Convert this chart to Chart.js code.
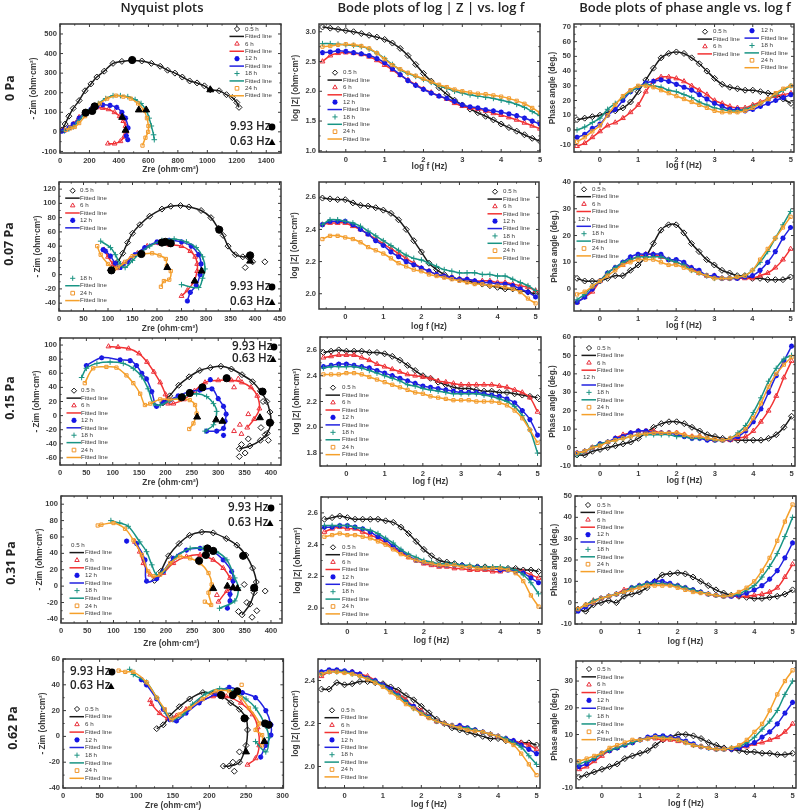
<!DOCTYPE html>
<html><head><meta charset="utf-8">
<script src="https://cdn.jsdelivr.net/npm/chart.js@4"></script>
<style>
html,body{margin:0;padding:0;background:#fff;width:800px;height:811px;overflow:hidden}
#wrap{position:relative;width:800px;height:811px;filter:blur(0.35px)}
canvas{position:absolute;display:block}
.h{position:absolute;top:-2px;font:600 13px "Open Sans",sans-serif;color:#222;white-space:nowrap;transform:translateX(-50%)}
.r{position:absolute;font:700 12.5px "Open Sans",sans-serif;color:#222;white-space:nowrap;transform:translate(-50%,-50%) rotate(-90deg)}
</style></head><body><div id="wrap"></div>
<script>
const SERIES=['0.5 h','6 h','12 h','18 h','24 h'];
const FIT='Fitted line';
const RATES=['0 Pa','0.07 Pa','0.15 Pa','0.31 Pa','0.62 Pa'];
const HEADS=['Nyquist plots','Bode plots of log | Z |  vs. log f','Bode plots of phase angle vs. log f'];
const logF=[-0.6,-0.4,-0.2,0,0.2,0.4,0.6,0.8,1,1.2,1.4,1.6,1.8,2,2.2,2.4,2.6,2.8,3,3.2,3.4,3.6,3.8,4,4.2,4.4,4.6,4.8,5];

// Nyquist: [Zre, -Zim]
const N0_05=[[1215,125],[1200,150],[1170,175],[1130,190],[1080,210],[1020,215],[980,235],[930,250],[880,260],[830,280],[780,300],[730,315],[680,335],[620,350],[555,362],[490,365],[420,360],[360,350],[300,310],[250,280],[210,245],[170,210],[130,160],[90,120],[60,80],[35,40],[15,10]];
const N0_6=[[325,-60],[370,-60],[410,-48],[435,-25],[448,0],[445,30],[430,55],[405,80],[370,100],[330,115],[290,122],[250,125],[210,115],[170,100],[130,75],[90,40],[60,20],[30,8],[10,3]];
const N0_12=[[460,-40],[450,-20],[462,20],[445,70],[420,100],[385,125],[340,135],[290,138],[250,130],[210,115],[170,100],[130,70],[90,40],[60,20],[30,8],[10,3]];
const N0_18=[[640,-40],[635,-15],[620,30],[605,70],[585,110],[550,145],[510,165],[460,180],[410,185],[360,185],[310,170],[260,145],[210,115],[160,85],[120,50],[90,25],[60,15],[30,5]];
const N0_24=[[560,-70],[580,-30],[598,0],[600,30],[590,70],[570,110],[530,145],[480,170],[430,180],[380,185],[320,170],[270,145],[220,115],[170,80],[130,45],[100,25],[70,18],[40,10]];
const N0_C=[[490,367],[235,130],[219,107],[174,98]];
const N0_T=[[1020,215],[535,112],[585,112],[422,74],[445,8]];

const N1_05=[[395,18],[385,25],[375,25],[360,28],[345,40],[335,55],[325,65],[310,80],[290,90],[265,95],[248,97],[228,96],[210,92],[185,82],[165,70],[150,58],[140,45],[130,30],[120,18],[110,10],[105,6]];
const N1_6=[[250,-30],[262,-22],[275,-10],[282,5],[282,15],[278,25],[268,33],[250,40],[225,42],[205,44],[180,40],[160,30],[145,22],[130,14],[118,9],[110,15],[100,25],[92,35]];
const N1_12=[[262,-37],[268,-25],[280,-15],[288,0],[290,15],[285,28],[270,40],[250,46],[225,48],[200,46],[175,38],[155,28],[140,18],[125,10],[115,16],[105,26],[95,33],[90,35]];
const N1_18=[[250,-14],[285,-18],[293,-5],[298,8],[293,25],[280,38],[260,46],[235,50],[210,48],[185,40],[165,30],[150,20],[135,10],[125,15],[115,28],[105,38],[85,47]];
const N1_24=[[208,-17],[214,-9],[225,-7],[228,5],[220,12],[218,22],[205,27],[190,30],[172,29],[150,26],[135,18],[120,10],[112,8],[100,15],[85,28],[78,40]];
const N1_05x=[[420,18],[380,10]];
const N1_C=[[327,63],[390,27],[107,6],[168,29],[210,45],[217,46],[228,44]];
const N1_T=[[390,19],[221,10],[291,5],[277,-9]];

const N2_05=[[340,-47],[360,-43],[380,-35],[393,-25],[400,-10],[398,5],[392,20],[380,35],[365,48],[345,58],[325,66],[305,70],[285,68],[265,64],[245,55],[225,43],[208,28],[195,18]];
const N2_05x=[[340,-58],[351,-53],[344,-41],[357,-33],[395,-35],[389,-27],[381,-17],[385,20]];
const N2_6=[[355,-17],[368,-5],[378,10],[374,28],[362,40],[345,47],[325,50],[300,50],[275,47],[255,35],[235,23],[215,17],[205,17],[200,30],[190,47],[178,62],[165,76],[150,88],[130,95],[110,97],[92,98]];
const N2_6x=[[330,-22],[344,-26],[341,-13],[357,2],[330,40],[338,52]];
const N2_12=[[278,-22],[297,-22],[310,-18],[313,-8],[315,2],[310,13],[300,24],[288,38],[265,36],[246,34],[224,28],[208,22],[196,19],[183,13],[174,34],[164,52],[155,60],[145,71],[133,78],[114,79],[79,82],[50,71]];
const N2_12x=[[310,-28],[285,51]];
const N2_18=[[275,-22],[291,-13],[297,6],[291,17],[278,27],[259,31],[234,27],[208,21],[190,15],[177,17],[167,38],[155,55],[139,67],[120,74],[95,76],[70,74],[50,67],[41,54]];
const N2_24=[[245,-19],[253,-11],[259,3],[256,15],[246,22],[228,23],[208,23],[190,23],[171,17],[161,15],[152,31],[139,46],[126,57],[107,68],[88,69],[63,67],[47,46]];
const N2_C=[[316,53],[384,34],[270,40],[246,32],[231,26],[398,-10]];
const N2_T=[[379,-3],[260,-2],[296,-6],[308,-8]];

const N3_05=[[345,-35],[360,-22],[368,-8],[372,5],[365,22],[352,38],[335,50],[315,58],[290,65],[268,66],[245,62],[225,52],[205,37],[190,18],[178,7]];
const N3_05x=[[338,-31],[364,-38],[373,-30],[354,-20],[389,-6],[349,2]];
const N3_6=[[300,-19],[316,-6],[328,-2],[322,10],[309,22],[290,32],[265,38],[239,36],[214,28],[195,16],[182,10],[170,14],[157,28],[150,42],[141,54]];
const N3_6x=[[297,-11]];
const N3_12=[[317,-27],[322,-18],[322,-10],[328,6],[325,18],[309,32],[290,42],[265,46],[239,44],[214,34],[195,18],[182,9],[163,6],[160,32],[144,52]];
const N3_12x=[[125,55]];
const N3_18=[[302,-27],[331,-18],[338,-2],[331,10],[316,32],[296,42],[271,46],[246,46],[220,36],[195,18],[182,14],[173,26],[163,42],[150,54],[128,73],[112,77],[95,80]];
const N3_24=[[274,-19],[286,-23],[281,-8],[287,2],[281,16],[265,28],[246,34],[227,36],[208,28],[189,14],[176,12],[166,18],[154,38],[138,56],[122,70],[100,77],[77,75],[70,74]];
const N3_C=[[279,46],[290,43],[347,37],[263,31],[276,38],[368,-2]];
const N3_T=[[290,-3],[317,0],[328,-2],[336,-3],[368,-3]];

const N4_05=[[219,-23],[227,-23],[241,-20],[250,-7],[252,5],[250,14],[241,21],[229,26],[218,31],[205,33],[191,34],[173,29],[159,23],[146,16],[137,9],[128,6]];
const N4_05x=[[234,-27],[232,-20],[241,-12]];
const N4_6=[[252,-22],[263,-17],[268,-7],[266,7],[259,17],[243,26],[223,31],[205,31],[186,27],[168,21],[155,16],[143,14],[132,18],[121,25],[119,28]];
const N4_12=[[270,-16],[277,-7],[284,1],[284,9],[277,20],[263,30],[245,34],[227,38],[209,33],[186,26],[168,18],[155,12],[146,13],[137,21],[128,29],[114,40],[107,44]];
const N4_18=[[263,-4],[277,-12],[281,-1],[277,8],[263,22],[250,29],[232,35],[214,37],[195,33],[177,25],[164,17],[150,13],[141,18],[128,30],[114,42],[96,48],[91,52]];
const N4_24=[[272,-7],[272,1],[263,5],[268,10],[254,22],[243,30],[227,35],[209,35],[191,29],[173,22],[159,17],[148,13],[139,21],[128,30],[114,42],[96,50],[85,50],[76,51]];
const N4_24x=[[244,40]];
const N4_C=[[216,32],[248,14],[232,32],[238,35],[276,10],[281,9]];
const N4_T=[[250,-12],[275,-4]];

// log |Z|
const Z0_05=[3.08,3.06,3.04,3.02,3.00,2.97,2.94,2.91,2.87,2.81,2.72,2.60,2.45,2.30,2.17,2.06,1.95,1.85,1.77,1.70,1.64,1.58,1.52,1.45,1.39,1.33,1.27,1.21,1.16];
const Z0_6=[2.50,2.60,2.64,2.65,2.64,2.62,2.58,2.52,2.44,2.36,2.27,2.19,2.11,2.04,1.98,1.92,1.87,1.80,1.75,1.72,1.70,1.67,1.63,1.60,1.56,1.52,1.47,1.42,1.37];
const Z0_12=[2.65,2.66,2.68,2.67,2.65,2.63,2.60,2.55,2.48,2.38,2.28,2.18,2.10,2.03,1.97,1.92,1.88,1.83,1.77,1.74,1.72,1.69,1.67,1.65,1.62,1.59,1.55,1.50,1.45];
const Z0_18=[2.80,2.80,2.79,2.78,2.77,2.75,2.71,2.64,2.55,2.45,2.36,2.30,2.25,2.20,2.15,2.09,2.05,2.00,1.97,1.94,1.92,1.90,1.88,1.85,1.82,1.78,1.73,1.66,1.59];
const Z0_24=[2.75,2.76,2.78,2.79,2.78,2.76,2.72,2.64,2.54,2.44,2.37,2.31,2.26,2.21,2.16,2.11,2.07,2.03,2.00,1.98,1.96,1.95,1.93,1.91,1.88,1.84,1.79,1.72,1.64];

const Z1_05=[2.595,2.59,2.585,2.585,2.565,2.55,2.545,2.535,2.52,2.50,2.46,2.40,2.33,2.26,2.19,2.15,2.12,2.10,2.09,2.08,2.07,2.06,2.05,2.04,2.03,2.03,2.02,2.01,2.00];
const Z1_6=[2.43,2.44,2.44,2.44,2.42,2.40,2.37,2.34,2.31,2.28,2.25,2.22,2.19,2.16,2.14,2.12,2.11,2.10,2.09,2.09,2.08,2.08,2.08,2.07,2.07,2.06,2.05,2.04,2.02];
const Z1_12=[2.43,2.45,2.45,2.45,2.43,2.40,2.37,2.33,2.30,2.26,2.23,2.20,2.18,2.16,2.14,2.12,2.11,2.10,2.09,2.09,2.08,2.07,2.07,2.06,2.06,2.05,2.03,2.01,1.98];
const Z1_18=[2.43,2.46,2.46,2.45,2.44,2.42,2.39,2.36,2.33,2.30,2.27,2.24,2.22,2.21,2.19,2.17,2.15,2.14,2.13,2.13,2.13,2.12,2.12,2.11,2.11,2.09,2.07,2.05,2.02];
const Z1_24=[2.34,2.36,2.36,2.35,2.34,2.32,2.29,2.27,2.25,2.22,2.19,2.17,2.15,2.14,2.12,2.11,2.10,2.09,2.08,2.07,2.06,2.06,2.05,2.05,2.04,2.03,2.01,1.97,1.94];

const Z2_05=[2.58,2.59,2.60,2.59,2.59,2.59,2.58,2.58,2.57,2.55,2.52,2.48,2.44,2.40,2.38,2.35,2.33,2.31,2.30,2.30,2.29,2.28,2.28,2.27,2.27,2.26,2.25,2.24,2.23];
const Z2_6=[2.54,2.55,2.56,2.56,2.56,2.54,2.52,2.49,2.47,2.45,2.43,2.41,2.40,2.39,2.38,2.36,2.35,2.34,2.33,2.33,2.33,2.33,2.33,2.32,2.31,2.29,2.27,2.23,2.12];
const Z2_12=[2.47,2.48,2.49,2.49,2.48,2.47,2.46,2.44,2.42,2.40,2.38,2.36,2.34,2.32,2.31,2.30,2.29,2.28,2.27,2.27,2.27,2.26,2.25,2.24,2.22,2.19,2.13,2.06,1.94];
const Z2_18=[2.46,2.47,2.47,2.47,2.47,2.46,2.44,2.42,2.40,2.38,2.36,2.33,2.32,2.30,2.29,2.28,2.27,2.26,2.26,2.26,2.26,2.25,2.24,2.22,2.20,2.16,2.09,1.98,1.80];
const Z2_24=[2.41,2.41,2.41,2.42,2.42,2.41,2.39,2.37,2.35,2.33,2.31,2.29,2.27,2.26,2.24,2.23,2.22,2.21,2.21,2.21,2.20,2.20,2.20,2.19,2.17,2.13,2.07,1.98,1.88];

const Z3_05=[2.56,2.57,2.58,2.57,2.56,2.56,2.56,2.56,2.55,2.54,2.51,2.47,2.42,2.37,2.33,2.30,2.29,2.28,2.27,2.26,2.26,2.26,2.25,2.25,2.25,2.25,2.24,2.24,2.23];
const Z3_6=[2.48,2.50,2.51,2.50,2.50,2.48,2.46,2.44,2.41,2.38,2.35,2.32,2.30,2.28,2.27,2.26,2.26,2.25,2.25,2.24,2.24,2.24,2.23,2.23,2.24,2.24,2.23,2.21,2.19];
const Z3_12=[2.51,2.51,2.52,2.52,2.51,2.50,2.48,2.45,2.43,2.39,2.36,2.33,2.30,2.29,2.28,2.27,2.27,2.27,2.27,2.26,2.26,2.25,2.25,2.24,2.24,2.23,2.22,2.19,2.16];
const Z3_18=[2.52,2.52,2.52,2.52,2.51,2.50,2.49,2.47,2.44,2.41,2.37,2.34,2.32,2.30,2.29,2.28,2.28,2.28,2.27,2.27,2.26,2.26,2.26,2.26,2.25,2.24,2.21,2.16,2.09];
const Z3_24=[2.45,2.46,2.47,2.46,2.46,2.45,2.44,2.42,2.40,2.37,2.34,2.32,2.30,2.29,2.28,2.27,2.27,2.27,2.26,2.26,2.25,2.25,2.25,2.25,2.24,2.22,2.17,2.08,2.01];

const Z4_05=[2.36,2.36,2.39,2.38,2.385,2.395,2.395,2.39,2.385,2.37,2.355,2.33,2.31,2.28,2.25,2.22,2.20,2.18,2.17,2.16,2.15,2.14,2.13,2.13,2.12,2.11,2.11,2.11,2.10];
const Z4_6=[2.42,2.44,2.445,2.44,2.44,2.43,2.42,2.40,2.38,2.36,2.34,2.31,2.28,2.26,2.23,2.21,2.20,2.19,2.19,2.18,2.17,2.16,2.15,2.14,2.13,2.12,2.11,2.10,2.08];
const Z4_12=[2.44,2.45,2.45,2.445,2.44,2.43,2.41,2.40,2.38,2.36,2.33,2.30,2.28,2.25,2.23,2.21,2.20,2.19,2.19,2.18,2.17,2.16,2.15,2.14,2.13,2.12,2.10,2.08,2.06];
const Z4_18=[2.43,2.44,2.44,2.44,2.43,2.42,2.41,2.395,2.375,2.35,2.33,2.30,2.27,2.25,2.23,2.21,2.20,2.19,2.18,2.18,2.17,2.16,2.15,2.14,2.13,2.11,2.09,2.05,2.01];
const Z4_24=[2.43,2.44,2.44,2.435,2.43,2.42,2.405,2.39,2.37,2.345,2.32,2.29,2.27,2.245,2.225,2.21,2.20,2.19,2.18,2.17,2.165,2.16,2.15,2.14,2.12,2.10,2.06,2.01,1.96];

// phase angle
const P0_05=[7,8,9,10,12,13,15,19,26,34,42,49,52,53,52,49,45,40,35,31,29,28,27,27,26,25,24,21,18];
const P0_6=[-11,-9,-5,-1,3,5,8,12,17,26,33,36,36,35,33,30,27,24,20,18,16,15,15,17,19,21,23,24,25];
const P0_12=[-5,-3,1,4,10,14,20,26,29,32,33,34,33,31,29,27,24,21,18,16,14,14,13,14,16,18,20,22,24];
const P0_18=[0,2,5,8,14,18,22,26,29,31,30,29,27,26,24,22,19,17,15,14,13,13,14,16,18,21,24,27,30];
const P0_24=[-8,-5,-1,3,10,17,23,27,30,30,29,27,25,23,21,19,17,15,13,12,12,12,13,15,18,21,25,28,30];

const P1_05=[4,3,3,3,4,5,5,7,9,12,17,22,24,24,21,17,14,11,9,7,6,5,5,4,4,3.5,3.5,3.5,4.5];
const P1_6=[-5,-3,-1,3,6,8,9,11,12,13,13,12,11,10,9,8,6,5,5,4,4,4,4,4,5,6,8,11,15];
const P1_12=[-5,-3,0,3,6,8,10,12,13,13,13,13,11,11,10,8,7,5,5,4,4,4,4.5,5,7,10,14,19,23];
const P1_18=[-4,-2,1,3,6,8,10,11,12,12,12,12,11,10,9,7,6,5,4,4,4,4.5,5,7,10,14,19,24,29];
const P1_24=[-2,-1,1,3,5,7,9,10,11,11,11,10,9,9,8,7,6,5,4,4,4,4.5,5,7,11,15,19,23,27];

const P2_05=[-4,-4,-2,-1,0,1,2,3,5,8,11,13,14,14,13,11,9,7,6,5,4.5,4,4,4,4,5,7,11,17];
const P2_6=[-3,-2,0,2,3,5,7,8,9,9,9,8,8,8,7,6,6,5,4,4,4,5,6,9,14,20,28,38,47];
const P2_12=[-3,-2,0,2,3,5,6,8,9,9,8,8,8,7,6,5,5,4,4,4,4.5,6,9,14,21,30,39,47,55];
const P2_18=[-4,-2,0,2,3,4,5,6,7,7,7,7,7,6,6,5,5,5,4,4,5,8,12,19,27,36,43,48,50];
const P2_24=[-3,-2,0,1,3,4,5,6,7,7.5,8,8,8,8,7,6,6,5,4.5,4,5,7,10,16,24,33,40,45,49];

const P3_05=[-3,-4,-1,0,1,0,3,4,5,7,10,13,13.5,14,13.5,12,10,8,6,4.5,3.5,3,2.5,2,2,2.5,3,4,6];
const P3_6=[-3,-1,1,2,3,4,6,7,8,9,9,9,8.5,8,7,6,5,4,3.5,3,3,3,3,3.5,4,5,7,12,18];
const P3_12=[-4,-2,0,2,3,4,5,7,8,9,10,10,9,8,7,6,5,4,3.5,3,3,3.5,4.5,6,8,11,15,21,28];
const P3_18=[-3,-1,1,2,3,4,5,7,8,9,9,9,8.5,8,7,6,5,4,3.5,3,3.5,4,6,8,12,17,23,31,40];
const P3_24=[-3,-1,0,2,3,4,5,6,7,8,8,8,8,7,6,5,4.5,4,3.5,3,3.5,5,7,10,15,21,29,38,46];

const P4_05=[-6,-5,-4,-3,-2,-1,1,2,3,4,6,8,9,10,10,9.5,8.5,7,6,5,4.5,4,3.5,3.5,3,3,2.5,2.5,3];
const P4_6=[-3,-2,0,2,4,5,6,7,8,8.5,8.5,8,8,7.5,7,6,5.5,5,4.5,4.5,4.5,5,5.5,6.5,7,8,9,11,14];
const P4_12=[-2,-1,1,3,4,5,6,7,8,9,9.5,9.5,9,8.5,7.5,6.5,5.5,5,4.5,4.5,4.5,5,6,7,9,11,14,18,22];
const P4_18=[-1,0,1,3,4,5,6,7,8,8.5,9,9,8.5,8,7,6,5.5,5,4.5,4.5,5,5.5,7,9,12,15,19,25,30];
const P4_24=[0,1,2,3,5,6,7,8,8,8.5,9,8.5,8.5,8,7,6,5.5,5,4.5,4.5,5,6,8,11,14,19,25,30,34];

// tick labels
const xT0=[0,200,400,600,800,1000,1200,1400], yT0=[-100,0,100,200,300,400,500];
const xT1=[0,50,100,150,200,250,300,350,400,450], yT1=[-40,-20,0,20,40,60,80,100,120];
const xT2=[0,50,100,150,200,250,300,350,400], yT2=[-60,-40,-20,0,20,40,60,80,100];
const xT3=[0,50,100,150,200,250,300,350,400], yT3=[-40,-20,0,20,40,60,80,100];
const xT4=[0,50,100,150,200,250,300], yT4=[-40,-20,0,20,40,60];
const fT=[0,1,2,3,4,5];
const zT0=[1.0,1.5,2.0,2.5,3.0], zT1=[2.0,2.2,2.4,2.6], zT2=[1.8,2.0,2.2,2.4,2.6], zT3=[2.0,2.2,2.4,2.6], zT4=[2.0,2.2,2.4];
const pT0=[-10,0,10,20,30,40,50,60,70], pT1=[0,10,20,30,40], pT2=[-10,0,10,20,30,40,50,60], pT3=[-10,0,10,20,30,40,50], pT4=[-10,0,10,20,30];

const COL=['#1a1a1a','#e9303c','#1414e6','#1f9483','#f0962c'];
const LINE=['#1a1a1a','#f23232','#2222e0','#189484','#f5a02a'];
const STY=['rectRot','triangle','star','cross','rect'];
const TXT='#3c3c3c', SANS='"Liberation Sans",Arial,sans-serif';
const nyq=(a)=>a.map(p=>({x:p[0],y:p[1]}));
const bode=(a)=>a.map((v,i)=>({x:logF[i],y:v}));

function makeSets(fits,extras,C,T){
  const out=[];
  fits.forEach((pts,i)=>{
    out.push({label:SERIES[i],data:pts.concat(extras&&extras[i]||[]),showLine:false,pointStyle:STY[i],
      pointRadius:i==0?3:i==2?2.6:i==4?2.3:2.8,pointBorderWidth:i==2?1.5:1,pointBorderColor:COL[i],pointBackgroundColor:'rgba(0,0,0,0)',order:2*(4-i)+1});
    out.push({label:FIT,data:pts,showLine:true,pointRadius:0,borderColor:LINE[i],borderWidth:1.5,tension:0.35,order:2*(4-i)});
  });
  if(C)out.push({label:'9.93 Hz',data:nyq(C),showLine:false,pointStyle:'circle',pointRadius:3.6,pointBackgroundColor:'#000',pointBorderColor:'#000',order:-2});
  if(T)out.push({label:'0.63 Hz',data:nyq(T),showLine:false,pointStyle:'triangle',pointRadius:4,pointBackgroundColor:'#000',pointBorderColor:'#000',order:-1});
  return out;
}

const framePlugin={id:'frame',afterDatasetsDraw(ch,a,o){
  const c=ch.ctx,A=ch.chartArea,X=ch.scales.x,Y=ch.scales.y;
  c.save();c.strokeStyle='#3a3a3a';c.lineWidth=1.5;c.strokeRect(A.left,A.top,A.right-A.left,A.bottom-A.top);
  c.lineWidth=1;c.beginPath();
  const mk=(arr,fn)=>{arr.forEach((v,i)=>{fn(v,3);if(i<arr.length-1)fn((v+arr[i+1])/2,1.6);
    if(i==0)fn(v-(arr[1]-v)/2,1.6);if(i==arr.length-1)fn(v+(v-arr[i-1])/2,1.6);});};
  mk(o.xt,(v,l)=>{if(v<X.min||v>X.max)return;const p=X.getPixelForValue(v);c.moveTo(p,A.top);c.lineTo(p,A.top+l);c.moveTo(p,A.bottom);c.lineTo(p,A.bottom-l);});
  mk(o.yt,(v,l)=>{if(v<Y.min||v>Y.max)return;const p=Y.getPixelForValue(v);c.moveTo(A.left,p);c.lineTo(A.left+l,p);c.moveTo(A.right,p);c.lineTo(A.right-l,p);});
  c.stroke();c.restore();
}};
const keyPlugin={id:'keys',afterDraw(ch,a,o){
  const c=ch.ctx,ox=o.ox,oy=o.oy;c.save();c.textBaseline='middle';
  (o.groups||[]).forEach(g=>{
    let row=0;
    g.series.forEach(si=>{
      const y=g.y+row*g.step-oy,mx=g.x-ox,tx=(g.tx||g.x+8)-ox;
      c.font='6.2px '+SANS;
      const hide=(g.noMark||[]).includes(si);
      if(!hide){c.save();c.strokeStyle=COL[si];c.fillStyle='rgba(0,0,0,0)';c.lineWidth=si==2?1.5:1;
        Chart.helpers.drawPoint(c,{pointStyle:STY[si],radius:2.6,borderWidth:si==2?1.5:1,rotation:0},mx,y);c.restore();}
      c.fillStyle=TXT;c.fillText(SERIES[si],hide?tx-14:tx,y);
      const y2=g.y+(row+1)*g.step-oy;
      c.strokeStyle=LINE[si];c.lineWidth=1.5;c.beginPath();c.moveTo(mx-7.5,y2);c.lineTo(mx+7,y2);c.stroke();
      c.fillStyle=TXT;c.fillText(FIT,tx,y2);
      row+=2;
    });
  });
  if(o.hz){
    c.fillStyle='#222';c.font='600 11.6px "Open Sans",sans-serif';
    c.fillText('9.93 Hz',o.hz[0]-ox,o.hz[1]-oy);c.fillText('0.63 Hz',o.hz[3]-ox,o.hz[4]-oy);
    c.fillStyle='#000';c.beginPath();c.arc(o.hz[2]-ox,o.hz[1]-oy,3.4,0,7);c.fill();
    const tx=o.hz[5]-ox,ty=o.hz[4]-oy;c.beginPath();c.moveTo(tx-3.5,ty+3);c.lineTo(tx+3.5,ty+3);c.lineTo(tx,ty-3.2);c.closePath();c.fill();
  }
  c.restore();
}};

function panel(p){
  const [L,R,T,B]=p.rect;
  const cl=p.tx-5,ct=T-8,cr=R+8,cb=p.ty+5;
  const cv=document.createElement('canvas');
  cv.width=cr-cl;cv.height=cb-ct;cv.style.left=cl+'px';cv.style.top=ct+'px';cv.style.width=(cr-cl)+'px';cv.style.height=(cb-ct)+'px';
  document.getElementById('wrap').appendChild(cv);
  const dec=p.dec||0;
  new Chart(cv,{type:'scatter',data:{datasets:p.sets},plugins:[framePlugin,keyPlugin],options:{
    animation:false,responsive:false,maintainAspectRatio:false,devicePixelRatio:1,
    layout:{padding:{top:8,right:8,left:0,bottom:0}},
    plugins:{legend:{display:false},tooltip:{enabled:false},frame:{xt:p.xt,yt:p.yt},keys:{groups:p.groups,hz:p.hz,ox:cl,oy:ct}},
    scales:{
      x:{type:'linear',min:p.x[0],max:p.x[1],grid:{display:false,drawTicks:false},border:{display:false},
        afterBuildTicks:s=>{s.ticks=p.xt.map(v=>({value:v}));},
        afterFit:s=>{s.height=cb-B;},
        ticks:{autoSkip:false,maxRotation:0,padding:3,color:TXT,font:{family:SANS,size:7.6,weight:'bold'},callback:v=>String(v)},
        title:{display:true,text:p.xl,color:TXT,padding:0,font:{family:SANS,size:8.4,weight:'bold'}}},
      y:{type:'linear',min:p.y[0],max:p.y[1],grid:{display:false,drawTicks:false},border:{display:false},
        afterBuildTicks:s=>{s.ticks=p.yt.map(v=>({value:v}));},
        afterFit:s=>{s.width=L-cl;},
        ticks:{autoSkip:false,padding:3,color:TXT,font:{family:SANS,size:7.6,weight:'bold'},callback:v=>Number(v).toFixed(dec)},
        title:{display:true,text:p.yl,color:TXT,padding:0,font:{family:SANS,size:8.2,weight:'bold'}}}
    }}});
}

const ALL=[0,1,2,3,4];
const g=(x,y,step,tx,series,noMark)=>({x,y,step,tx,series:series||ALL,noMark});
const ZRE='Zre (ohm·cm²)',ZIM='- Zim (ohm·cm²)',LF='log f (Hz)',LZ='log |Z| (ohm·cm²)',PH='Phase angle (deg.)';

const nyqFits=[[N0_05,N0_6,N0_12,N0_18,N0_24],[N1_05,N1_6,N1_12,N1_18,N1_24],[N2_05,N2_6,N2_12,N2_18,N2_24],[N3_05,N3_6,N3_12,N3_18,N3_24],[N4_05,N4_6,N4_12,N4_18,N4_24]];
const nyqExtra=[[],[N1_05x],[N2_05x,N2_6x,N2_12x],[N3_05x,N3_6x,N3_12x],[N4_05x,null,null,null,N4_24x]];
const nyqC=[N0_C,N1_C,N2_C,N3_C,N4_C],nyqT=[N0_T,N1_T,N2_T,N3_T,N4_T];
const zAll=[[Z0_05,Z0_6,Z0_12,Z0_18,Z0_24],[Z1_05,Z1_6,Z1_12,Z1_18,Z1_24],[Z2_05,Z2_6,Z2_12,Z2_18,Z2_24],[Z3_05,Z3_6,Z3_12,Z3_18,Z3_24],[Z4_05,Z4_6,Z4_12,Z4_18,Z4_24]];
const pAll=[[P0_05,P0_6,P0_12,P0_18,P0_24],[P1_05,P1_6,P1_12,P1_18,P1_24],[P2_05,P2_6,P2_12,P2_18,P2_24],[P3_05,P3_6,P3_12,P3_18,P3_24],[P4_05,P4_6,P4_12,P4_18,P4_24]];

const c1=[
 {rect:[60,281,24,153],x:[0,1500],y:[-108,551],xt:xT0,yt:yT0,tx:34,ty:170,groups:[g(237,29,7.42,245)],hz:[230,127,272,230,142,272]},
 {rect:[59,281,182,311],x:[0,453],y:[-51,130],xt:xT1,yt:yT1,tx:38,ty:329,groups:[g(72.7,190.7,7.43,80,[0,1,2]),g(72.7,278.3,7.43,80,[3,4])],hz:[230,287,272,230,302,272]},
 {rect:[60,281,338,465],x:[0,419],y:[-70,110],xt:xT2,yt:yT2,tx:37,ty:483,groups:[g(74,390.7,7.42,81)],hz:[232,347,274,232,359,273]},
 {rect:[61,282,496,623],x:[0,421],y:[-45,110],xt:xT3,yt:yT3,tx:40,ty:644,groups:[g(77,545,7.6,85,ALL,[0])],hz:[228,508,271,228,523,270]},
 {rect:[63,284,659,788],x:[0,301],y:[-40,60],xt:xT4,yt:yT4,tx:43,ty:806,groups:[g(77,709,7.7,85)],hz:[70,672,112,70,686,111]}
];
const c2=[
 {rect:[319,540,24,152],x:[-0.69,5],y:[0.98,3.13],yt:zT0,tx:296,ty:167,groups:[g(335,72.7,7.37,343)]},
 {rect:[319,539,182,309],x:[-0.69,5.09],y:[1.905,2.695],yt:zT1,tx:295,ty:327,groups:[g(495,191.7,7.37,503)]},
 {rect:[320,541,337,466],x:[-0.69,5.09],y:[1.7,2.7],yt:zT2,tx:297,ty:482,groups:[g(333,387.7,7.44,342)]},
 {rect:[321,542,497,624],x:[-0.69,5.09],y:[1.9,2.7],yt:zT3,tx:298,ty:641,groups:[g(333,547.3,7.4,342)]},
 {rect:[318,540,659,788],x:[-0.69,5.09],y:[1.9,2.5],yt:zT4,tx:296,ty:805,groups:[g(332,710.3,7.4,341)]}
];
const c3=[
 {rect:[574,794,24,152],x:[-0.68,5.08],y:[-15,72],yt:pT0,tx:553,ty:166,groups:[g(705,31.7,7.4,713,[0,1]),g(752,30.7,7.4,761,[2,3,4])]},
 {rect:[574,794,182,311],x:[-0.68,5.09],y:[-8.2,40],yt:pT1,tx:555,ty:326,groups:[g(584,189.3,7.4,592,ALL,[2])]},
 {rect:[574,795,337,466],x:[-0.68,5.09],y:[-10,60],yt:pT2,tx:553,ty:481,groups:[g(589,348,7.4,597,ALL,[2])]},
 {rect:[575,796,496,624],x:[-0.68,5.09],y:[-10,50],yt:pT3,tx:555,ty:642,groups:[g(588,505,7.4,597)]},
 {rect:[576,796,661,788],x:[-0.68,5.09],y:[-10,37.5],yt:pT4,tx:555,ty:804,groups:[g(589,669,7.85,597)]}
];
c1.forEach((p,i)=>{p.xl=ZRE;p.yl=ZIM;p.sets=makeSets(nyqFits[i].map(nyq),nyqExtra[i].map(e=>e?nyq(e):null),nyqC[i],nyqT[i]);panel(p);});
c2.forEach((p,i)=>{p.xt=fT;p.dec=1;p.xl=LF;p.yl=LZ;p.sets=makeSets(zAll[i].map(bode));panel(p);});
c3.forEach((p,i)=>{p.xt=fT;p.xl=LF;p.yl=PH;p.sets=makeSets(pAll[i].map(bode));panel(p);});

const wrap=document.getElementById('wrap');
[162,431,685].forEach((x,i)=>{const d=document.createElement('div');d.className='h';d.style.left=x+'px';d.textContent=HEADS[i];wrap.appendChild(d);});
[[9,88],[8,244],[9,398],[10,563],[12,728]].forEach((q,i)=>{const d=document.createElement('div');d.className='r';d.style.left=q[0]+'px';d.style.top=q[1]+'px';d.textContent=RATES[i];wrap.appendChild(d);});
</script></body></html>
